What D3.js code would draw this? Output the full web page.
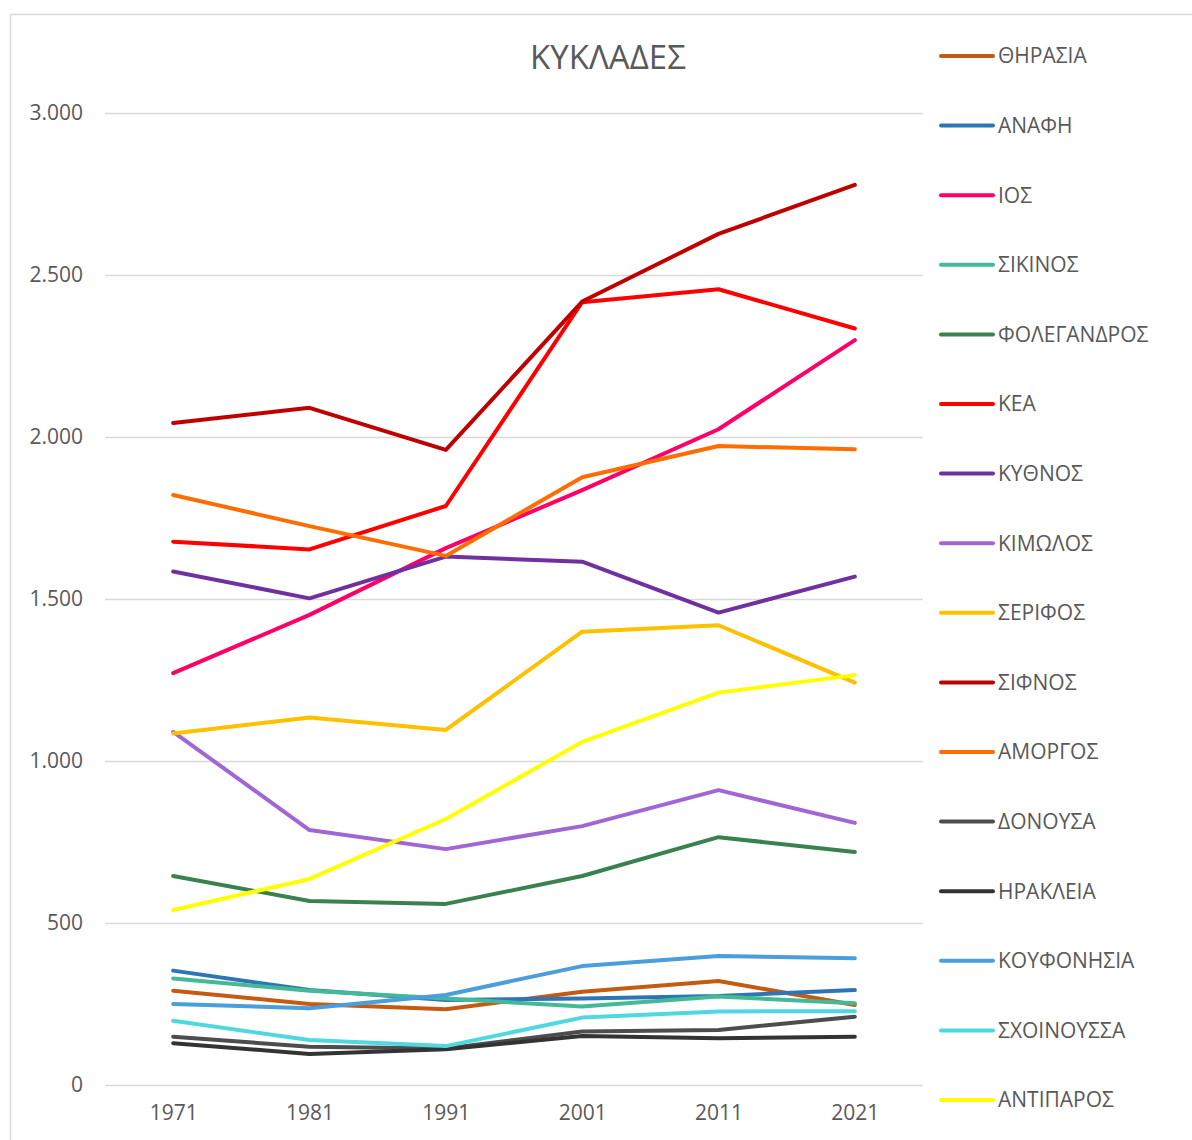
<!DOCTYPE html>
<meta charset="utf-8">
<script src="https://d3js.org/d3.v7.min.js"></script>
<style>
  body { margin: 0; background: #fff; }
  text { font-family: "Open Sans", "Noto Sans", sans-serif; fill: #595959; }
</style>
<body>
<script>
// census years
var years = ["1971", "1981", "1991", "2001", "2011", "2021"];

// one array per island
var thirasia    = [291, 250, 234, 288, 321, 247];
var anafi       = [353, 293, 262, 267, 275, 293];
var ios         = [1271, 1451, 1657, 1836, 2024, 2299];
var sikinos     = [329, 291, 267, 242, 273, 252];
var folegandros = [645, 568, 559, 645, 765, 719];
var kea         = [1677, 1653, 1787, 2416, 2456, 2335];
var kythnos     = [1585, 1502, 1631, 1615, 1458, 1569];
var kimolos     = [1090, 787, 728, 799, 910, 809];
var serifos     = [1085, 1134, 1096, 1399, 1419, 1242];
var sifnos      = [2043, 2090, 1960, 2418, 2627, 2778];
var amorgos     = [1821, 1725, 1633, 1876, 1972, 1962];
var donousa     = [149, 118, 113, 165, 170, 211];
var irakleia    = [129, 96, 110, 151, 144, 149];
var koufonisia  = [250, 237, 278, 367, 398, 391];
var schoinoussa = [198, 139, 120, 208, 227, 228];
var antiparos   = [540, 636, 821, 1059, 1211, 1265];

var names = ["ΘΗΡΑΣΙΑ", "ΑΝΑΦΗ", "ΙΟΣ", "ΣΙΚΙΝΟΣ", "ΦΟΛΕΓΑΝΔΡΟΣ", "ΚΕΑ", "ΚΥΘΝΟΣ", "ΚΙΜΩΛΟΣ",
             "ΣΕΡΙΦΟΣ", "ΣΙΦΝΟΣ", "ΑΜΟΡΓΟΣ", "ΔΟΝΟΥΣΑ", "ΗΡΑΚΛΕΙΑ", "ΚΟΥΦΟΝΗΣΙΑ", "ΣΧΟΙΝΟΥΣΣΑ", "ΑΝΤΙΠΑΡΟΣ"];
var values = [thirasia, anafi, ios, sikinos, folegandros, kea, kythnos, kimolos,
              serifos, sifnos, amorgos, donousa, irakleia, koufonisia, schoinoussa, antiparos];
var colors = ["#C55A11", "#2E75B6", "#FF0066", "#44B997", "#3A8150", "#FF0000", "#7030A0", "#A066D3",
              "#FFC000", "#C00000", "#FF6D00", "#4D4D4D", "#333333", "#4A9EDC", "#4FD8E0", "#FFFF00"];
var yTicks = [0, 500, 1000, 1500, 2000, 2500, 3000];

var W = 1192, H = 1140;
var svg = d3.select("body").append("svg")
    .attr("width", W)
    .attr("height", H);

// chart frame (only top and left edges are in view)
svg.append("path")
    .attr("d", "M10.5," + H + "V14.5H" + W)
    .attr("fill", "none")
    .attr("stroke", "#d9d9d9")
    .attr("stroke-width", 1.5);

var plot = {left: 105, right: 923, top: 113, bottom: 1085};

var x = d3.scalePoint()
    .domain(years)
    .range([plot.left, plot.right])
    .padding(0.5);

var y = d3.scaleLinear()
    .domain([0, 3000])
    .range([plot.bottom, plot.top]);

// gridlines
svg.append("g")
  .selectAll("line")
  .data(yTicks)
  .enter().append("line")
    .attr("x1", plot.left)
    .attr("x2", plot.right)
    .attr("y1", function(d) { return Math.round(y(d)) + 0.5; })
    .attr("y2", function(d) { return Math.round(y(d)) + 0.5; })
    .attr("stroke", "#d9d9d9")
    .attr("stroke-width", 1.5);

// y axis labels
var fmt = function(d) { return d3.format(",")(d).replace(/,/g, "."); };
var yAxis = svg.append("g")
    .attr("transform", "translate(" + (plot.left - 22) + ",0)")
    .call(d3.axisLeft(y).tickValues(yTicks).tickFormat(fmt).tickSize(0).tickPadding(0));
yAxis.select(".domain").remove();
yAxis.selectAll("text")
    .style("font-size", "21px")
    .attr("fill", "#595959");

// x axis labels
var xAxis = svg.append("g")
    .attr("transform", "translate(0," + (plot.bottom + 20) + ")")
    .call(d3.axisBottom(x).tickSize(0).tickPadding(0));
xAxis.select(".domain").remove();
xAxis.selectAll("text")
    .style("font-size", "21px")
    .attr("fill", "#595959");

// lines
var line = d3.line()
    .x(function(d, i) { return x(years[i]); })
    .y(function(d) { return y(d); });

svg.append("g")
  .selectAll("path")
  .data(values)
  .enter().append("path")
    .attr("d", line)
    .attr("fill", "none")
    .attr("stroke", function(d, i) { return colors[i]; })
    .attr("stroke-width", 4)
    .attr("stroke-linejoin", "round")
    .attr("stroke-linecap", "round");

// title
svg.append("text")
    .attr("x", 608)
    .attr("y", 69)
    .attr("text-anchor", "middle")
    .style("font-size", "33px")
    .text("ΚΥΚΛΑΔΕΣ");

// legend
var legend = svg.selectAll(".legend")
    .data(names)
    .enter().append("g")
      .attr("class", "legend")
      .attr("transform", function(d, i) { return "translate(0," + (56 + i * 69.6) + ")"; });

legend.append("line")
    .attr("x1", 941)
    .attr("x2", 993)
    .attr("stroke", function(d, i) { return colors[i]; })
    .attr("stroke-width", 4)
    .attr("stroke-linecap", "round");

legend.append("text")
    .attr("x", 998)
    .attr("dy", ".35em")
    .style("font-size", "21px")
    .text(function(d) { return d; });
</script>
</body>
</html>
